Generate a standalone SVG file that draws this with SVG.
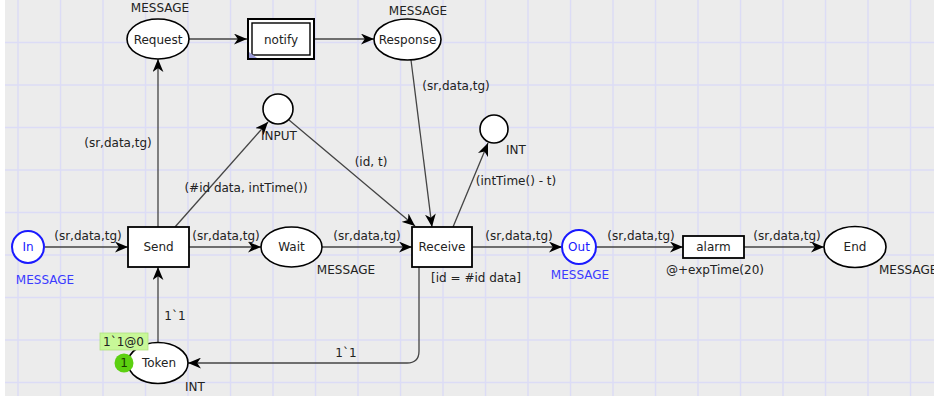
<svg xmlns="http://www.w3.org/2000/svg" width="934" height="398" viewBox="0 0 934 398">
<defs>
<marker id="ah" viewBox="0 0 12 10" refX="12" refY="5" markerWidth="13" markerHeight="11" markerUnits="userSpaceOnUse" orient="auto">
<path d="M0,0 L12,5 L0,10 L3.5,5 z" fill="#000"/>
</marker>
</defs>
<style>
text{font-family:"DejaVu Sans","Liberation Sans",sans-serif;font-size:12px;fill:#222}
.lbl{text-anchor:middle}
.blue{fill:#3a3aff}
.pl{fill:#fff;stroke:#000;stroke-width:1.6}
.tr{fill:#fff;stroke:#000;stroke-width:1.8}
.port{fill:#fff;stroke:#1a1aff;stroke-width:2}
.arc{fill:none;stroke:#444;stroke-width:1.3;marker-end:url(#ah)}
.grid{stroke:#dcdcf6;stroke-width:1.4}
</style>
<rect x="0" y="0" width="934" height="398" fill="#fff"/>
<rect x="5" y="0" width="929" height="396" fill="#ececec"/>
<g class="grid">
<line x1="5" y1="42.5" x2="934" y2="42.5"/>
<line x1="5" y1="85" x2="934" y2="85"/>
<line x1="5" y1="127.5" x2="934" y2="127.5"/>
<line x1="5" y1="170" x2="934" y2="170"/>
<line x1="5" y1="212.5" x2="934" y2="212.5"/>
<line x1="5" y1="255" x2="934" y2="255"/>
<line x1="5" y1="297.5" x2="934" y2="297.5"/>
<line x1="5" y1="340" x2="934" y2="340"/>
<line x1="5" y1="382.5" x2="934" y2="382.5"/>
<line x1="18" y1="0" x2="18" y2="396"/>
<line x1="60.5" y1="0" x2="60.5" y2="396"/>
<line x1="103" y1="0" x2="103" y2="396"/>
<line x1="145.5" y1="0" x2="145.5" y2="396"/>
<line x1="188" y1="0" x2="188" y2="396"/>
<line x1="230.5" y1="0" x2="230.5" y2="396"/>
<line x1="273" y1="0" x2="273" y2="396"/>
<line x1="315.5" y1="0" x2="315.5" y2="396"/>
<line x1="358" y1="0" x2="358" y2="396"/>
<line x1="400.5" y1="0" x2="400.5" y2="396"/>
<line x1="443" y1="0" x2="443" y2="396"/>
<line x1="485.5" y1="0" x2="485.5" y2="396"/>
<line x1="528" y1="0" x2="528" y2="396"/>
<line x1="570.5" y1="0" x2="570.5" y2="396"/>
<line x1="613" y1="0" x2="613" y2="396"/>
<line x1="655.5" y1="0" x2="655.5" y2="396"/>
<line x1="698" y1="0" x2="698" y2="396"/>
<line x1="740.5" y1="0" x2="740.5" y2="396"/>
<line x1="783" y1="0" x2="783" y2="396"/>
<line x1="825.5" y1="0" x2="825.5" y2="396"/>
<line x1="868" y1="0" x2="868" y2="396"/>
<line x1="910.5" y1="0" x2="910.5" y2="396"/>
</g>

<g id="connectors">
<line class="arc" x1="45" y1="247" x2="128" y2="247"/>
<text class="lbl" x="88" y="240">(sr,data,tg)</text>
<line class="arc" x1="189" y1="247" x2="261" y2="247"/>
<text class="lbl" x="226" y="240">(sr,data,tg)</text>
<line class="arc" x1="322" y1="247" x2="412" y2="247"/>
<text class="lbl" x="367" y="240">(sr,data,tg)</text>
<line class="arc" x1="472" y1="247" x2="562" y2="247"/>
<text class="lbl" x="519" y="240">(sr,data,tg)</text>
<line class="arc" x1="596" y1="247" x2="683" y2="247"/>
<text class="lbl" x="641" y="240">(sr,data,tg)</text>
<line class="arc" x1="744" y1="247" x2="824" y2="247"/>
<text class="lbl" x="787" y="240">(sr,data,tg)</text>
<line class="arc" x1="158" y1="227" x2="158" y2="59"/>
<text class="lbl" x="118" y="147">(sr,data,tg)</text>
<line class="arc" x1="189" y1="39" x2="247" y2="39"/>
<line class="arc" x1="315" y1="39" x2="374" y2="39"/>
<line class="arc" x1="411" y1="60" x2="432" y2="227"/>
<text class="lbl" x="456" y="90">(sr,data,tg)</text>
<line class="arc" x1="175" y1="227" x2="268" y2="122"/>
<text class="lbl" x="246" y="192">(#id data, intTime())</text>
<line class="arc" x1="289" y1="120" x2="415" y2="226"/>
<text class="lbl" x="371" y="166">(id, t)</text>
<line class="arc" x1="453" y1="227" x2="488" y2="143"/>
<text class="lbl" x="516" y="185">(intTime() - t)</text>
<line class="arc" x1="158" y1="343" x2="158" y2="267"/>
<text class="lbl" x="175" y="320">1`1</text>
<path class="arc" d="M419,267 L419,351 Q419,363 407,363 L188,363"/>
<text class="lbl" x="346" y="357">1`1</text>
</g>

<g id="Request">
<ellipse class="pl" cx="158" cy="39" rx="31" ry="20"/>
<text class="lbl" x="158" y="44">Request</text>
<text class="lbl" x="160" y="12">MESSAGE</text>
</g>
<g id="notify">
<rect x="248" y="19" width="66" height="40" fill="#fff" stroke="#000" stroke-width="2"/>
<rect x="252" y="23" width="58" height="32" fill="#fff" stroke="#000" stroke-width="1.4"/>
<path d="M249,52 L249,58 L257,58 z" fill="#9a9ad8"/>
<text class="lbl" x="281" y="44">notify</text>
</g>
<g id="Response">
<ellipse class="pl" cx="407.5" cy="39.5" rx="33.5" ry="20.5"/>
<text class="lbl" x="407.5" y="44">Response</text>
<text class="lbl" x="418" y="15">MESSAGE</text>
</g>
<g id="INPUT">
<circle class="pl" cx="278" cy="109" r="15"/>
<text class="lbl" x="279" y="140">INPUT</text>
</g>
<g id="INT">
<circle class="pl" cx="494" cy="129" r="14"/>
<text class="lbl" x="516" y="154">INT</text>
</g>
<g id="In">
<circle class="port" cx="28" cy="247" r="16"/>
<text class="lbl" x="28" y="251" style="fill:#1a1aff">In</text>
<text class="lbl blue" x="45" y="284">MESSAGE</text>
</g>
<g id="Send">
<rect class="tr" x="128" y="227" width="61" height="40"/>
<text class="lbl" x="158.5" y="251">Send</text>
</g>
<g id="Wait">
<ellipse class="pl" cx="291.5" cy="247" rx="30.5" ry="20"/>
<text class="lbl" x="291.5" y="251">Wait</text>
<text class="lbl" x="346" y="274">MESSAGE</text>
</g>
<g id="Receive">
<rect class="tr" x="412" y="227" width="60" height="40"/>
<text class="lbl" x="442" y="251">Receive</text>
<text class="lbl" x="476" y="282">[id = #id data]</text>
</g>
<g id="Out">
<circle class="port" cx="579" cy="247" r="17"/>
<text class="lbl" x="579" y="251" style="fill:#1a1aff">Out</text>
<text class="lbl blue" x="580" y="279">MESSAGE</text>
</g>
<g id="alarm">
<rect class="tr" x="683" y="236" width="61" height="22"/>
<text class="lbl" x="713.5" y="251">alarm</text>
<text class="lbl" x="715" y="274">@+expTime(20)</text>
</g>
<g id="End">
<ellipse class="pl" cx="855" cy="247" rx="31" ry="20.5"/>
<text class="lbl" x="855" y="251">End</text>
<text x="879" y="274">MESSAGE</text>
</g>
<g id="Token">
<ellipse class="pl" cx="158" cy="363" rx="30" ry="20.5"/>
<text class="lbl" x="159" y="367">Token</text>
<text class="lbl" x="195" y="391">INT</text>
<rect x="100" y="333" width="48" height="17" fill="#c8f898" stroke="#b0e080" stroke-width="0.8"/>
<text x="103" y="346">1`1@0</text>
<circle cx="124" cy="363" r="9.5" fill="#5cd010"/>
<text class="lbl" x="124" y="367" style="fill:#1a3a00">1</text>
</g>
</svg>
